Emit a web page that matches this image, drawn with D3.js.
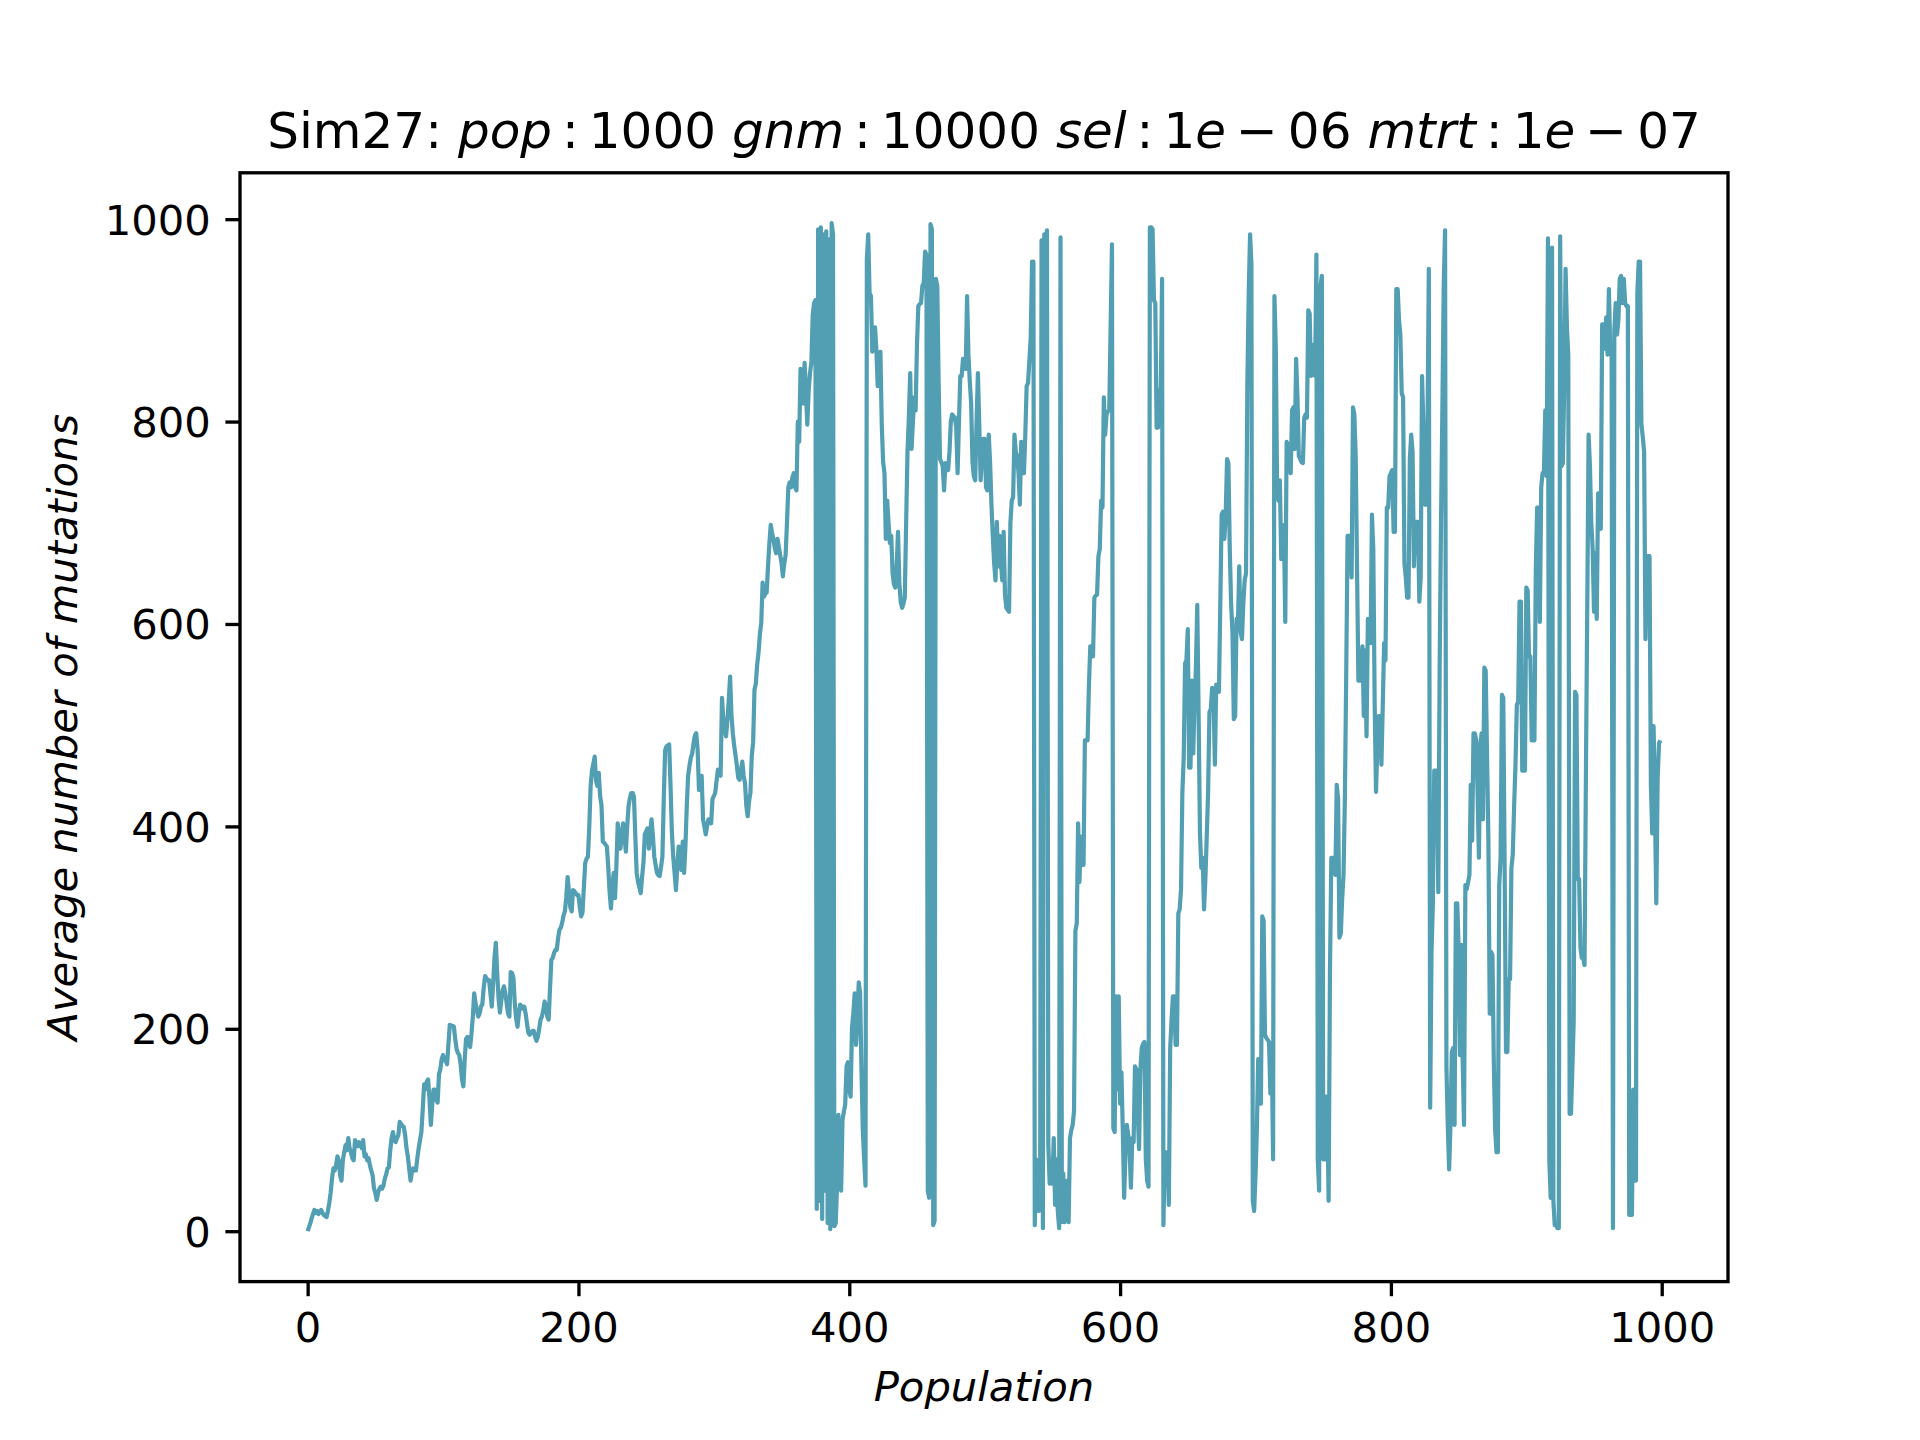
<!DOCTYPE html>
<html>
<head>
<meta charset="utf-8">
<script src="https://cdn.jsdelivr.net/npm/d3@7"></script>
<style>
	body { margin: 0; background: #fff; }
	svg { display: block; }
	text { font-family: "DejaVu Sans", sans-serif; fill: #000; }
</style>
</head>
<body>
<svg id="chart" width="1920" height="1440"></svg>
<script>
// average number of mutations per population (index = population)
const mutations = [
	0,4,8,13,17,21,18,20,17,19,21,18,16,15,14,20,28,38,52,62,
	60,65,74,70,55,50,70,78,85,80,92,82,78,72,70,90,85,84,88,85,
	82,90,74,76,70,72,65,60,55,42,38,31,38,42,44,42,45,52,56,62,
	63,80,92,98,90,88,92,95,108,106,104,103,95,82,74,62,50,58,62,60,
	60,72,82,90,98,120,145,140,148,150,130,105,125,140,140,130,127,155,160,170,
	174,170,168,165,185,204,203,203,202,190,180,176,174,165,150,143,170,190,192,185,
	182,195,212,235,225,218,212,215,222,224,240,252,250,248,248,235,222,245,270,285,
	255,230,216,228,238,242,235,225,215,212,256,255,250,225,210,202,215,224,220,222,
	222,215,205,196,194,196,198,198,192,188,192,200,209,212,218,227,222,212,209,240,
	268,270,275,278,278,290,298,300,305,312,316,330,350,335,320,316,337,336,334,332,
	332,320,311,315,340,364,368,370,400,440,455,462,469,445,440,453,430,421,385,384,
	382,380,360,335,319,340,354,329,360,403,390,378,392,403,390,375,400,420,428,433,
	433,429,390,354,345,340,334,350,364,392,395,398,378,395,407,390,370,362,354,352,
	351,360,370,427,475,479,480,481,440,394,370,354,337,360,380,368,357,385,354,380,
	420,450,460,468,472,482,490,492,476,436,445,450,407,400,392,400,407,405,403,427,
	430,433,445,456,455,450,527,505,497,489,505,525,548,510,492,480,470,460,448,446,
	455,464,450,443,420,410,425,433,470,483,535,541,560,572,590,601,641,627,630,631,
	657,680,698,690,684,675,670,684,676,668,660,647,660,668,700,735,740,735,745,749,
	735,732,800,780,852,835,818,858,830,797,830,848,858,905,917,920,22,990,30,992,
	12,985,40,988,8,980,2,996,985,5,8,45,115,80,40,110,118,125,163,167,
	140,133,201,215,235,184,210,246,235,160,100,71,45,961,985,927,924,869,880,893,
	872,835,850,869,797,760,749,684,722,700,680,687,650,639,636,657,691,640,622,616,
	620,626,700,770,804,848,773,800,824,811,876,914,916,917,934,937,968,965,40,33,
	995,990,6,10,941,934,838,763,760,756,732,759,755,752,770,800,807,805,804,794,
	749,800,845,845,862,858,852,924,866,840,818,760,746,742,800,848,797,742,765,783,
	783,735,732,787,760,718,687,660,643,701,657,687,660,643,691,629,616,614,612,700,
	722,725,787,770,766,749,718,780,760,749,787,835,838,860,883,958,958,6,71,30,
	20,71,979,3,985,975,989,85,47,50,47,92,26,71,20,3,982,9,57,9,
	30,50,9,92,100,105,119,297,304,403,345,390,380,362,485,485,485,540,578,570,
	568,626,628,629,667,674,722,715,824,787,807,810,811,893,975,102,98,232,140,232,
	126,157,100,33,78,105,95,81,43,92,88,163,160,120,81,160,181,185,187,71,
	50,44,992,992,990,920,917,794,794,831,824,941,6,78,78,78,26,181,208,232,
	232,184,184,314,318,338,434,468,561,564,595,458,458,544,472,523,557,619,509,393,
	359,369,318,348,390,434,513,516,537,530,461,540,535,533,619,708,711,684,708,763,
	759,674,620,592,506,509,605,598,657,592,585,620,643,650,838,927,985,955,30,20,
	54,100,170,126,126,311,307,194,191,189,187,136,181,71,924,872,729,722,742,664,
	698,694,602,780,777,760,749,811,814,773,862,824,766,763,760,759,804,807,804,910,
	907,845,848,876,845,965,71,40,934,944,71,71,133,133,30,256,369,369,369,352,
	441,427,290,294,328,352,427,550,687,687,687,646,814,807,766,653,544,544,560,578,
	509,574,489,605,590,581,708,674,523,434,480,509,509,461,520,581,564,715,715,746,
	749,752,691,691,931,931,900,886,828,824,660,646,626,626,763,787,770,657,701,701,
	701,622,646,845,794,718,718,790,951,122,276,324,455,455,455,335,557,700,811,934,
	989,163,105,61,105,177,181,105,324,324,280,174,283,170,105,342,338,345,352,441,
	386,492,492,485,434,369,480,492,407,557,554,470,386,215,276,273,167,100,78,78,
	342,369,530,527,359,177,177,249,249,359,372,420,461,520,523,622,622,455,455,455,
	636,633,568,568,485,485,485,653,715,715,602,735,749,749,811,746,981,71,33,972,
	30,6,6,3,3,983,756,759,835,951,893,866,116,116,160,208,533,530,348,348,
	280,270,270,263,448,616,787,756,700,674,612,670,605,729,725,694,896,896,872,903,
	866,931,869,869,3,890,917,886,900,941,944,917,941,917,914,914,16,16,16,140,
	50,50,927,958,958,797,785,770,585,667,667,667,441,393,499,420,324,448,482,485
];

const xTicks = [0, 200, 400, 600, 800, 1000];
const yTicks = [0, 200, 400, 600, 800, 1000];

// title pieces: [text, italic]; thin spaces around ":" and "-" like mathtext
const titleParts = [
	["Sim27: ", false], ["pop", true], ["\u2009:\u2009", false], ["1000 ", false],
	["gnm", true], ["\u2009:\u2009", false], ["10000 ", false],
	["sel", true], ["\u2009:\u2009", false], ["1", false], ["e", true], ["\u2009\u2212\u2009", false], ["06 ", false],
	["mtrt", true], ["\u2009:\u2009", false], ["1", false], ["e", true], ["\u2009\u2212\u2009", false], ["07", false]
];
const xLabel = "Population";
const yLabel = "Average number of mutations";

function drawChart(){
	let svg = d3.select("#chart");

	// matplotlib default axes box at 300 dpi
	let margin = { top: 172.8, right: 192, bottom: 158.4, left: 240 },
		width = 1920 - margin.left - margin.right,
		height = 1440 - margin.top - margin.bottom;

	let lineColor = "#529eb2";
	let tickFont = 41.7;

	// auto limits with 5% margin like matplotlib
	let n = mutations.length;
	let xPad = (n - 1)*0.05;
	let yMin = d3.min(mutations), yMax = d3.max(mutations);
	let yPad = (yMax - yMin)*0.05;

	let x = d3.scaleLinear()
			.domain([-xPad, n - 1 + xPad])
			.range([0, width]);
	let y = d3.scaleLinear()
			.domain([yMin - yPad, yMax + yPad])
			.range([height, 0]);

	let g = svg.append("g")
			.attr("transform", "translate(" + margin.left + "," + margin.top + ")");

	let line = d3.line()
			.x(function(d, i){ return x(i); })
			.y(function(d){ return y(d); });

	g.append("path")
		.datum(mutations)
		.attr("d", line)
		.attr("fill", "none")
		.attr("stroke", lineColor)
		.attr("stroke-width", 4.2)
		.attr("stroke-linejoin", "round");

	// axes
	let xAxis = d3.axisBottom(x).tickValues(xTicks).tickSize(14.6).tickPadding(14.6).tickFormat(d3.format("d"));
	let yAxis = d3.axisLeft(y).tickValues(yTicks).tickSize(14.6).tickPadding(14.6).tickFormat(d3.format("d"));

	let gx = g.append("g")
			.attr("transform", "translate(0," + height + ")")
			.call(xAxis);
	let gy = g.append("g").call(yAxis);

	[gx, gy].forEach(function(a){
		a.select(".domain").remove();
		a.selectAll("line").attr("stroke", "#000").attr("stroke-width", 3.33);
		a.selectAll("text")
			.style("font-size", tickFont + "px")
			.attr("fill", "#000");
	});
	gx.selectAll("text").attr("dy", null).attr("y", 14.6 + 14.6 + 31.7);
	gy.selectAll("text").attr("dy", "0.36em");

	// frame
	g.append("rect")
		.attr("x", 0)
		.attr("y", 0)
		.attr("width", width)
		.attr("height", height)
		.attr("fill", "none")
		.attr("stroke", "#000")
		.attr("stroke-width", 3.33);

	// labels
	svg.append("text")
		.attr("x", margin.left + width/2)
		.attr("y", 1401)
		.attr("text-anchor", "middle")
		.style("font-size", tickFont + "px")
		.style("font-style", "italic")
		.text(xLabel);

	svg.append("text")
		.attr("transform", "translate(77," + (margin.top + height/2) + ") rotate(-90)")
		.attr("text-anchor", "middle")
		.style("font-size", tickFont + "px")
		.style("font-style", "italic")
		.text(yLabel);

	let title = svg.append("text")
		.attr("x", margin.left + width/2)
		.attr("y", 148)
		.attr("text-anchor", "middle")
		.style("font-size", "50px")
		.style("white-space", "pre")
		.attr("xml:space", "preserve");

	title.selectAll("tspan")
		.data(titleParts)
		.enter()
		.append("tspan")
		.style("font-style", function(d){ return d[1] ? "italic" : "normal"; })
		.text(function(d){ return d[0]; });
}

drawChart();
</script>
</body>
</html>
